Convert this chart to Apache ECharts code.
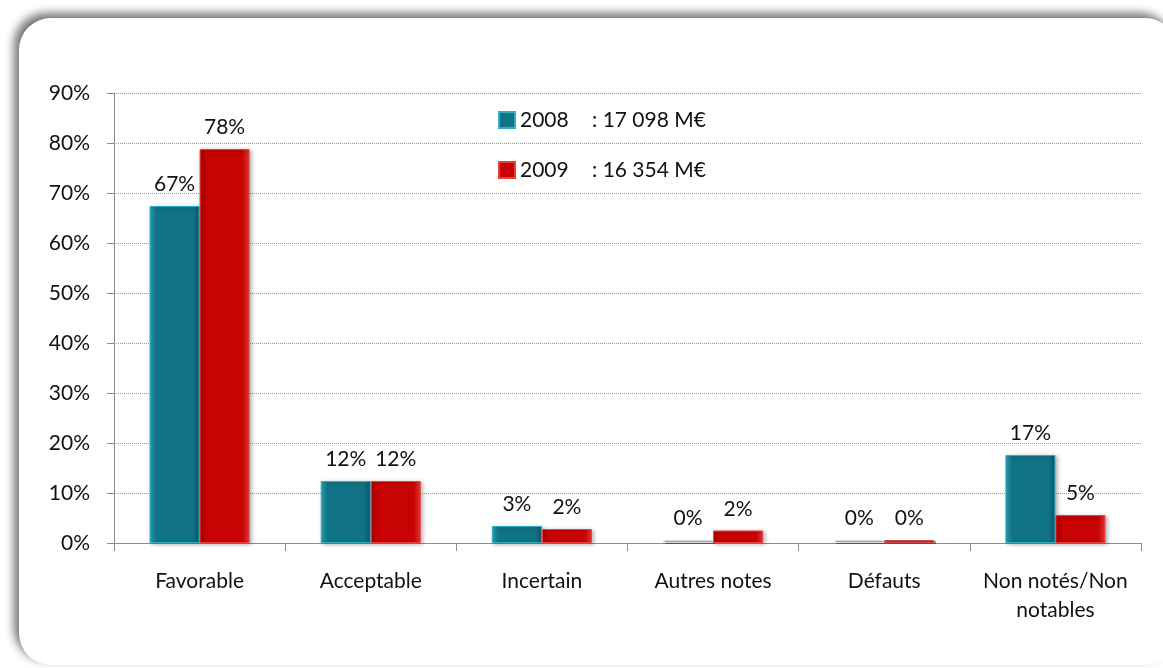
<!DOCTYPE html>
<html>
<head>
<meta charset="utf-8">
<script src="https://cdn.jsdelivr.net/npm/echarts@6/dist/echarts.min.js"></script>
<style>
html,body{margin:0;padding:0;background:#fff;}
#chart{width:1163px;height:668px;}
</style>
</head>
<body>
<div id="chart"></div>
<script>
var categories = ['Favorable', 'Acceptable', 'Incertain', 'Autres notes', 'Défauts', 'Non notés/Non\nnotables'];
var seriesNames = ['2008', '2009'];
var legendTotals = [': 17 098 M€', ': 16 354 M€'];
var values2008 = [67.4, 12.4, 3.4, 0.6, 0.6, 17.6];
var values2009 = [78.8, 12.4, 2.8, 2.5, 0.6, 5.6];
var yTicks = [0, 10, 20, 30, 40, 50, 60, 70, 80, 90];

var FONT = 'Lato, "DejaVu Sans", sans-serif';

function hgrad(l, m, r) {
  return new echarts.graphic.LinearGradient(0, 0, 1, 0, [
    {offset: 0, color: l}, {offset: 0.14, color: m}, {offset: 0.86, color: m}, {offset: 1, color: r}
  ]);
}
var styles = [
  {main: hgrad('#2aa3ba', '#117386', '#0b5667'), border: '#33adc4', faded: '#e9ecec', fadedBorder: '#dcdfe0'},
  {main: hgrad('#ac0000', '#c80303', '#e43838'), border: '#e84040', faded: '#d65a5a', fadedBorder: '#c84848'}
];

function buildData(vals, st) {
  return vals.map(function (v) {
    if (v < 1) {
      return {value: v, itemStyle: {color: st.faded, borderColor: st.fadedBorder, shadowBlur: 0}};
    }
    return {value: v};
  });
}

var allValues = [values2008, values2009];
var series = seriesNames.map(function (name, i) {
  return {
    name: name,
    type: 'bar',
    barWidth: 50,
    barGap: '0%',
    data: buildData(allValues[i], styles[i]),
    itemStyle: {
      color: styles[i].main,
      borderColor: styles[i].border,
      borderWidth: 1,
      shadowBlur: 4,
      shadowOffsetX: 2,
      shadowOffsetY: 1,
      shadowColor: 'rgba(0,0,0,0.3)'
    },
    label: {
      show: true,
      position: 'top',
      distance: 11,
      color: '#111',
      fontFamily: FONT,
      fontSize: 21,
      formatter: function (p) { return Math.floor(p.value) + '%'; }
    }
  };
});

var chart = echarts.init(document.getElementById('chart'), null, {renderer: 'canvas'});
chart.setOption({
  animation: false,
  backgroundColor: '#ffffff',
  graphic: [{
    type: 'rect',
    z: -10,
    silent: true,
    shape: {x: 19, y: 18, width: 1158, height: 647, r: 32},
    style: {
      fill: '#ffffff',
      shadowBlur: 10,
      shadowOffsetX: -5,
      shadowOffsetY: -5,
      shadowColor: 'rgba(0,0,0,0.55)'
    }
  }],
  grid: {left: 114, right: 22, top: 93, bottom: 125},
  legend: {
    orient: 'vertical',
    left: 493,
    top: 104,
    itemWidth: 16,
    itemHeight: 16,
    itemGap: 28,
    itemTextGap: 6,
    icon: 'rect',
    data: seriesNames,
    formatter: function (name) {
      var i = seriesNames.indexOf(name);
      return '{y|' + name + '}{v|' + legendTotals[i] + '}';
    },
    textStyle: {
      fontFamily: FONT,
      fontSize: 21,
      color: '#111',
      lineHeight: 22,
      rich: {
        y: {width: 72, fontFamily: FONT, fontSize: 21, color: '#111'},
        v: {fontFamily: FONT, fontSize: 21, color: '#111'}
      }
    }
  },
  xAxis: {
    type: 'category',
    data: categories,
    axisLine: {show: true, lineStyle: {color: '#8c8c8c', width: 1}},
    axisTick: {show: true, length: 8, lineStyle: {color: '#8c8c8c'}},
    axisLabel: {
      interval: 0,
      margin: 24,
      color: '#111',
      fontFamily: FONT,
      fontSize: 21,
      lineHeight: 29
    }
  },
  yAxis: {
    type: 'value',
    min: yTicks[0],
    max: yTicks[yTicks.length - 1],
    interval: yTicks[1] - yTicks[0],
    axisLine: {show: true, lineStyle: {color: '#8c8c8c', width: 1}},
    axisTick: {show: true, length: 7, lineStyle: {color: '#8c8c8c'}},
    axisLabel: {
      margin: 24,
      color: '#111',
      fontFamily: FONT,
      fontSize: 21,
      formatter: '{value}%'
    },
    splitLine: {show: true, lineStyle: {color: '#9a9a9a', type: 'dotted', width: 1}}
  },
  series: series
});
</script>
</body>
</html>
